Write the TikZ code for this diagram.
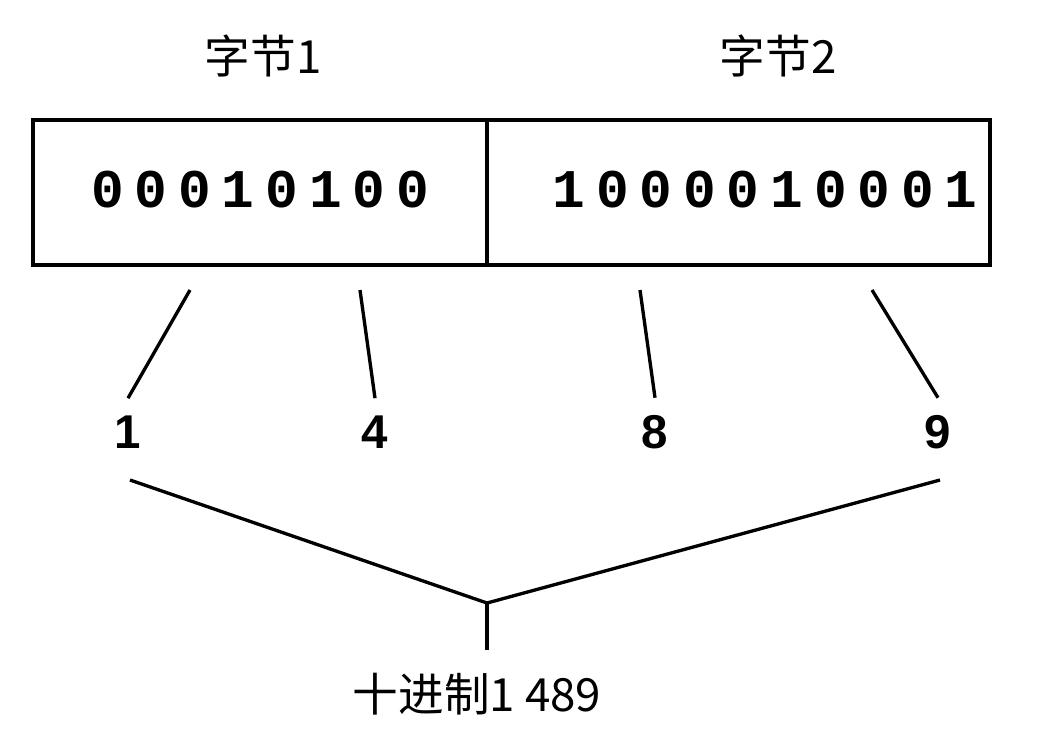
\documentclass[tikz,border=0pt]{standalone}
\usepackage{fontspec}
\usepackage{tikz}
\newfontfamily\cjk{Noto Sans CJK SC}
\newfontfamily\bitfont[LetterSpace=20]{Liberation Mono}
\newfontfamily\digitfont{Liberation Sans}
\usetikzlibrary{positioning}

\begin{document}
\begin{tikzpicture}[x=0.02cm, y=-0.02cm, line width=1.9pt,
  bytebox/.style={rectangle, draw=black, line width=2.1pt, minimum height=2.9cm, inner sep=0pt},
  bits/.style={inner sep=0pt, font=\bitfont\bfseries\fontsize{31}{31}\selectfont},
  digit/.style={inner sep=9pt, font=\digitfont\bfseries\fontsize{27}{27}\selectfont},
  cjklabel/.style={inner sep=0pt, font=\cjk\fontsize{26}{26}\selectfont}]
\useasboundingbox (0,0) rectangle (1060,738);
% the two bytes
\node (byte1) [bytebox, minimum width=9.08cm] at (260, 192.5) {};
\node (byte2) [bytebox, minimum width=10.06cm] at (738.5, 192.5) {};
\node (bits1) [bits] at (260, 190) {00010100};
\node (bits2) [bits] at (765, 190) {1000010001};
\node (lab1) [cjklabel] at (263, 56) {字节1};
\node (lab2) [cjklabel] at (778, 56) {字节2};
% decimal digits
\node (d1) [digit] at (128, 432) {1};
\node (d4) [digit] at (375, 432) {4};
\node (d8) [digit] at (655, 432) {8};
\node (d9) [digit] at (938, 432) {9};
\coordinate (t1) at (190, 290);
\coordinate (t4) at (360, 290);
\coordinate (t8) at (640, 290);
\coordinate (t9) at (872, 290);
\draw (t1) -- (d1.north);
\draw (t4) -- (d4.north);
\draw (t8) -- (d8.north);
\draw (t9) -- (d9.north);
% join
\coordinate (b1) at (130, 480);
\coordinate (b9) at (940, 480);
\coordinate (join) at (487, 603);
\node (dec) [cjklabel] at (477, 694) {十进制1 489};
\draw (b1) -- (join);
\draw (b9) -- (join);
\draw (join) -- (487, 650);
\end{tikzpicture}
\end{document}
